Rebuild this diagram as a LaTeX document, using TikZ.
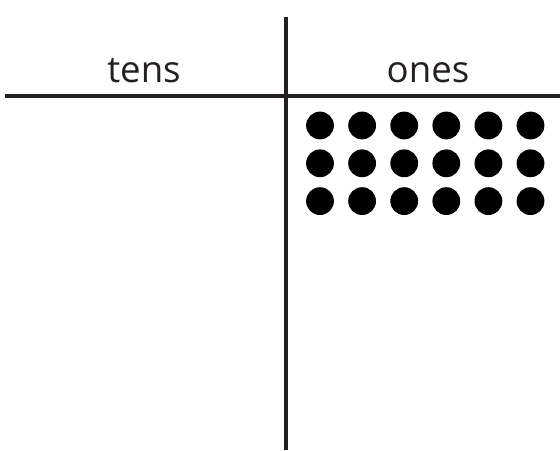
\documentclass[tikz,border=0pt]{standalone}
\usepackage{fontspec}
\setmainfont{Open Sans}
\usetikzlibrary{positioning}
\definecolor{ink}{HTML}{231F20}
\tikzset{rule/.style={draw=ink,line width=2.4pt}, head/.style={font=\fontsize{18.3}{22}\selectfont,text=ink,anchor=base,inner sep=0pt}, counter/.style={circle,fill=black,minimum size=13.9pt,inner sep=0pt}}

\begin{document}
\begin{tikzpicture}[x=0.5pt,y=-0.5pt]
\useasboundingbox (0,0) rectangle (560,450);
\coordinate (top) at (286,17);
\coordinate (bot) at (286,450);
\coordinate (left) at (5,96);
\coordinate (right) at (560,96);
\draw[rule] (top)--(bot);
\draw[rule] (left)--(right);
\node[head] (tens) at (144,82) {tens};
\node[head] (ones) at (428,82) {ones};
\foreach \r in {0,1,2}
  \foreach \c in {0,...,5}
    \node[counter] (dot-\r-\c) at (320+42.1*\c,125.5+37.8*\r) {};
\end{tikzpicture}
\end{document}
